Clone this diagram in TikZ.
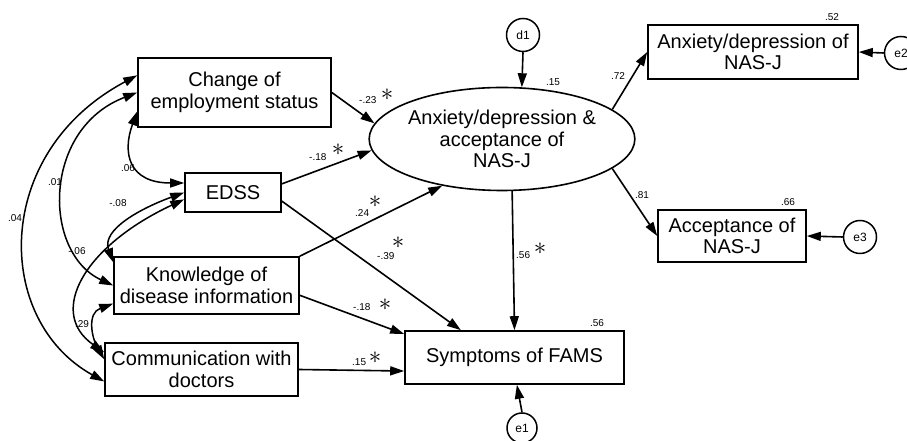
\documentclass[tikz,border=0pt]{standalone}
\usepackage{fontspec}
\setmainfont{Liberation Sans}
\usetikzlibrary{
  positioning,
  arrows.meta,
  shapes.geometric
}
\tikzset{
  >={Triangle[length=14pt,width=9pt]},
  box/.style = {
    draw, line width=1.6pt, align=center, inner sep=0pt,
    font=\fontsize{20}{21.7}\selectfont
  },
  lat/.style = {
    box, ellipse, minimum width=240pt, minimum height=103pt
  },
  err/.style = {
    circle, draw, line width=1.5pt, minimum size=33pt, inner sep=0pt,
    font=\fontsize{12}{14}\selectfont
  },
  reg/.style = {->, line width=1.6pt},
  cov/.style = {<->, line width=1.5pt},
  est/.style = {inner sep=0pt, font=\fontsize{10}{12}\selectfont},
  sig/.style = {inner sep=0pt, font=\fontsize{27}{27}\selectfont}
}

\begin{document}
\begin{tikzpicture}[x=1pt, y=1pt]
  \useasboundingbox (0,0) rectangle (907,441);
  % observed and latent variables
  \path
    (234.5,348.5) node [box, minimum width=193pt, minimum height=69pt] (ch) {Change of\\employment status}
    (233,248.5) node [box, minimum width=96pt, minimum height=39pt] (edss) {EDSS}
    (206.5,155.5) node [box, minimum width=185pt, minimum height=57pt] (kn) {Knowledge of\\disease information}
    (201.5,71.5) node [box, minimum width=193pt, minimum height=53pt] (co) {Communication with\\doctors}
    (514.5,83.5) node [box, minimum width=219pt, minimum height=53pt] (sy) {Symptoms of FAMS}
    (502,302) node [lat] (nas) {Anxiety/depression \&\\acceptance of\\NAS-J}
    (753,389) node [box, minimum width=210pt, minimum height=54pt] (ad) {Anxiety/depression of\\NAS-J}
    (732,205) node [box, minimum width=148pt, minimum height=52pt] (ac) {Acceptance of\\NAS-J}
    (523,406) node [err] (d1) {d1}
    (901,388) node [err] (e2) {e2}
    (860,204) node [err] (e3) {e3}
    (522,13) node [err, minimum size=30pt] (e1) {e1};

  % paths
  \path
    (ch.east) edge [reg] (nas.173)
    (edss.10) edge [reg] (nas.185)
    (kn.north east) edge [reg] (nas.218)
    (edss.-10) edge [reg] (sy.153)
    (kn.-6.5) edge [reg] (sy.168)
    (co.east) edge [reg] (sy.187)
    (nas.281) edge [reg] (sy.north)
    (d1.south) edge [reg] (nas.69)
    (nas.15) edge [reg] (ad.west)
    (nas.-15) edge [reg] (ac.west)
    (e2.west) edge [reg] (ad.east)
    (e3.west) edge [reg] (ac.east)
    (e1.north) edge [reg] (sy.-85);

  % covariances
  \draw [cov] (ch.170) to [out=208, in=151, out distance=165pt, in distance=126pt] (co.187);
  \draw [cov] (ch.west) to [out=201, in=155, out distance=102pt, in distance=78pt] (kn.west);
  \draw [cov] (edss.169) to [out=180, in=250, out distance=55pt, in distance=45pt] (ch.191);
  \draw [cov] (edss.west) to [out=200, in=110, out distance=45pt, in distance=35pt] (kn.166);
  \draw [cov] (edss.188) to [out=205, in=145, out distance=110pt, in distance=70pt] (co.170);
  \draw [cov] (kn.191) to [out=200, in=120, out distance=28pt, in distance=25pt] (co.174);

  % estimates
  \path
    (359,341) node [est, anchor=west] (v23) {-.23}
    (387,346) node [sig] (s23) {$\ast$}
    (309,284) node [est, anchor=west] (v18a) {-.18}
    (338,291) node [sig] (s18a) {$\ast$}
    (355,228) node [est, anchor=west] (v24) {.24}
    (375,239) node [sig] (s24) {$\ast$}
    (377,185) node [est, anchor=west] (v39) {-.39}
    (398,198) node [sig] (s39) {$\ast$}
    (353,134) node [est, anchor=west] (v18b) {-.18}
    (385,136) node [sig] (s18b) {$\ast$}
    (352,79) node [est, anchor=west] (v15) {.15}
    (375,83) node [sig] (s15) {$\ast$}
    (516,186) node [est, anchor=west] (v56) {.56}
    (540,192) node [sig] (s56) {$\ast$}
    (553,359) node [est] (r15) {.15}
    (832,424) node [est] (r52) {.52}
    (618,365) node [est] (v72) {.72}
    (642,246) node [est] (v81) {.81}
    (788,239) node [est] (r66) {.66}
    (597,118) node [est] (r56) {.56}
    (128,273) node [est] (c06) {.06}
    (55,259) node [est] (c01) {.01}
    (15,223) node [est] (c04) {.04}
    (118,238) node [est] (c08) {-.08}
    (77,190) node [est] (c06b) {-.06}
    (82,117) node [est] (c29) {.29};
\end{tikzpicture}
\end{document}
